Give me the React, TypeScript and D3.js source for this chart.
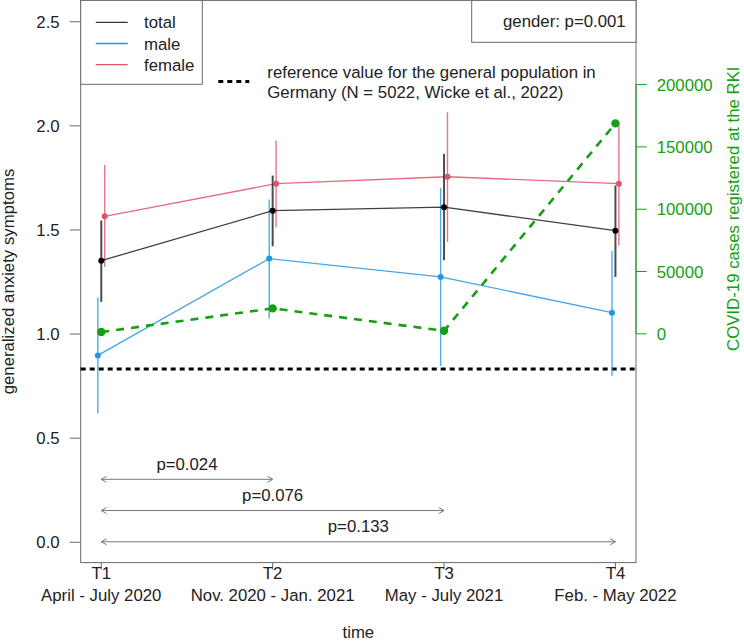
import * as d3 from 'd3'
import React, { useEffect, useRef } from 'react'

const timepoints = ['T1', 'T2', 'T3', 'T4']
const periods = ['April - July 2020', 'Nov. 2020 - Jan. 2021', 'May - July 2021', 'Feb. - May 2022']

const totalMean = [1.35, 1.59, 1.607, 1.494]
const totalLower = [1.152, 1.419, 1.352, 1.272]
const totalUpper = [1.543, 1.759, 1.863, 1.711]

const maleMean = [0.895, 1.36, 1.272, 1.1]
const maleLower = [0.617, 1.072, 0.844, 0.797]
const maleUpper = [1.173, 1.644, 1.7, 1.396]

const femaleMean = [1.563, 1.72, 1.753, 1.72]
const femaleLower = [1.32, 1.511, 1.44, 1.424]
const femaleUpper = [1.81, 1.927, 2.063, 2.007]

const covidCases = [1000, 20000, 2000, 168500]

const referenceValue = 0.83

const compareTo = [1, 2, 3]
const compareY = [0.3, 0.15, 0]
const compareP = ['p=0.024', 'p=0.076', 'p=0.133']

const leftTicks = [0, 0.5, 1, 1.5, 2, 2.5]
const rightTicks = [0, 50000, 100000, 150000, 200000]

const FONT = '"Liberation Sans", Arial, Helvetica, sans-serif'
const FS = 16.8
const GREEN = '#13a013'
const BLUE = '#2297E6'
const RED = '#DF536B'
const FRAME = '#6a6a6a'

export default function App() {
  const svgRef = useRef<SVGSVGElement>(null)

  useEffect(() => {
    if (!svgRef.current) return
    const width = 744
    const height = 642
    const svg = d3.select(svgRef.current)
    svg.selectAll('*').remove()
    svg.attr('width', width).attr('height', height)
      .style('font-family', FONT)

    const left = 80.7, right = 636, top = 0.4, bottom = 562.6

    const x = d3.scaleLinear().domain([0.88, 4.12]).range([left, right])
    const y = d3.scaleLinear().domain([-0.1, 2.6]).range([bottom, top])
    const y2 = d3.scaleLinear().domain([0, 200000]).range([333.3, 84.1])

    const idx = timepoints.map((_, i) => i)
    const xi = (i: number) => x(i + 1)

    // left axis
    const la = svg.append('g')
      .attr('transform', `translate(${left},0)`)
      .call(d3.axisLeft(y).tickValues(leftTicks).tickFormat(d3.format('.1f')).tickSize(11).tickPadding(10))
    la.select('.domain').remove()
    la.selectAll('line').attr('stroke', FRAME)
    la.selectAll('text').attr('font-size', FS).attr('fill', '#222').attr('font-family', FONT).attr('dy', '0.36em')

    // right axis (cases)
    const ra = svg.append('g')
      .attr('transform', `translate(${right},0)`)
      .call(d3.axisRight(y2).tickValues(rightTicks).tickFormat(d3.format('d')).tickSize(10.7).tickPadding(10))
    ra.select('.domain').remove()
    ra.selectAll('line').attr('stroke', GREEN)
    ra.selectAll('text').attr('font-size', FS).attr('fill', GREEN).attr('font-family', FONT).attr('dy', '0.36em')

    // plot frame
    svg.append('rect')
      .attr('x', left).attr('y', top)
      .attr('width', right - left).attr('height', bottom - top)
      .attr('fill', 'none').attr('stroke', FRAME).attr('stroke-width', 1)

    svg.append('line')
      .attr('x1', right).attr('x2', right)
      .attr('y1', y2(0)).attr('y2', y2(200000))
      .attr('stroke', GREEN).attr('stroke-width', 1)

    // bottom ticks + labels
    const bt = svg.append('g')
    bt.selectAll('line').data(idx).enter().append('line')
      .attr('x1', d => xi(d)).attr('x2', d => xi(d))
      .attr('y1', bottom).attr('y2', bottom + 7)
      .attr('stroke', FRAME)
    bt.selectAll('text.tp').data(idx).enter().append('text')
      .attr('class', 'tp')
      .attr('x', d => xi(d)).attr('y', 579.3)
      .attr('text-anchor', 'middle').attr('font-size', FS).attr('fill', '#222')
      .text(d => timepoints[d])
    bt.selectAll('text.pr').data(idx).enter().append('text')
      .attr('class', 'pr')
      .attr('x', d => xi(d)).attr('y', 601)
      .attr('text-anchor', 'middle').attr('font-size', FS).attr('fill', '#222')
      .text(d => periods[d])

    // axis titles
    svg.append('text')
      .attr('x', (left + right) / 2).attr('y', 637.5)
      .attr('text-anchor', 'middle').attr('font-size', FS).attr('fill', '#222')
      .text('time')
    svg.append('text')
      .attr('transform', `translate(13.5,${(top + bottom) / 2}) rotate(-90)`)
      .attr('text-anchor', 'middle').attr('font-size', FS).attr('fill', '#222')
      .text('generalized anxiety symptoms')
    svg.append('text')
      .attr('transform', `translate(738.5,${y2(100000)}) rotate(-90)`)
      .attr('text-anchor', 'middle').attr('font-size', FS).attr('fill', GREEN)
      .text('COVID-19 cases registered at the RKI')

    // reference line
    svg.append('line')
      .attr('x1', left).attr('x2', right)
      .attr('y1', y(referenceValue)).attr('y2', y(referenceValue))
      .attr('stroke', '#000').attr('stroke-width', 3).attr('stroke-dasharray', '5,4')

    // p-value arrows
    const arrowColor = '#777'
    const head = 6
    const ang = Math.PI / 6
    compareTo.forEach((t, k) => {
      const x1 = xi(0), x2 = xi(t), yy = y(compareY[k])
      const hx = head * Math.cos(ang), hy = head * Math.sin(ang)
      const p = d3.path()
      p.moveTo(x1, yy); p.lineTo(x2, yy)
      p.moveTo(x1 + hx, yy - hy); p.lineTo(x1, yy); p.lineTo(x1 + hx, yy + hy)
      p.moveTo(x2 - hx, yy - hy); p.lineTo(x2, yy); p.lineTo(x2 - hx, yy + hy)
      svg.append('path').attr('d', p.toString())
        .attr('fill', 'none').attr('stroke', arrowColor).attr('stroke-width', 1)
      svg.append('text')
        .attr('x', (x1 + x2) / 2).attr('y', yy - 9.5)
        .attr('text-anchor', 'middle').attr('font-size', FS).attr('fill', '#222')
        .text(compareP[k])
    })

    // series
    const series = [
      { mean: maleMean, lo: maleLower, hi: maleUpper, color: BLUE, off: -0.02, barW: 1.4, opacity: 0.8 },
      { mean: femaleMean, lo: femaleLower, hi: femaleUpper, color: RED, off: 0.02, barW: 1.4, opacity: 0.8 },
      { mean: totalMean, lo: totalLower, hi: totalUpper, color: '#000', off: 0, barW: 2, opacity: 0.7 },
    ]

    series.forEach(s => {
      const line = d3.line<number>()
        .x(i => x(i + 1 + s.off))
        .y(i => y(s.mean[i]))
      svg.append('path').datum(idx)
        .attr('d', line)
        .attr('fill', 'none').attr('stroke', s.color)
        .attr('stroke-opacity', s.opacity + 0.05).attr('stroke-width', 1.3)
      svg.append('g').selectAll('line').data(idx).enter().append('line')
        .attr('x1', i => x(i + 1 + s.off)).attr('x2', i => x(i + 1 + s.off))
        .attr('y1', i => y(s.lo[i])).attr('y2', i => y(s.hi[i]))
        .attr('stroke', s.color).attr('stroke-opacity', s.opacity)
        .attr('stroke-width', s.barW)
    })

    // covid cases (dashed green)
    const caseLine = d3.line<number>()
      .x(i => xi(i))
      .y(i => y2(covidCases[i]))
    svg.append('path').datum(idx)
      .attr('d', caseLine)
      .attr('fill', 'none').attr('stroke', GREEN)
      .attr('stroke-width', 2.6).attr('stroke-dasharray', '8,7')
    svg.append('g').selectAll('circle').data(idx).enter().append('circle')
      .attr('cx', i => xi(i)).attr('cy', i => y2(covidCases[i]))
      .attr('r', 4.2).attr('fill', GREEN)

    series.forEach(s => {
      svg.append('g').selectAll('circle').data(idx).enter().append('circle')
        .attr('cx', i => x(i + 1 + s.off)).attr('cy', i => y(s.mean[i]))
        .attr('r', 3).attr('fill', s.color)
    })

    // legend box
    const lg = svg.append('g')
    lg.append('rect')
      .attr('x', left).attr('y', top)
      .attr('width', 202.3 - left).attr('height', 84.3 - top)
      .attr('fill', '#fff').attr('stroke', FRAME)
    const legendNames = ['total', 'male', 'female']
    const legendColors = ['#333', BLUE, RED]
    legendNames.forEach((n, i) => {
      const by = 28.3 + i * 21.2
      lg.append('line')
        .attr('x1', 95.7).attr('x2', 127.7)
        .attr('y1', by - 6).attr('y2', by - 6)
        .attr('stroke', legendColors[i]).attr('stroke-width', 1.3)
      lg.append('text')
        .attr('x', 144).attr('y', by)
        .attr('font-size', FS).attr('fill', '#222')
        .text(n)
    })

    // reference legend
    svg.append('line')
      .attr('x1', 218.3).attr('x2', 249.3).attr('y1', 81.5).attr('y2', 81.5)
      .attr('stroke', '#000').attr('stroke-width', 3).attr('stroke-dasharray', '5,4')
    svg.append('text')
      .attr('x', 267.3).attr('y', 77.5)
      .attr('font-size', FS).attr('fill', '#222')
      .text('reference value for the general population in')
    svg.append('text')
      .attr('x', 267.3).attr('y', 98)
      .attr('font-size', FS).attr('fill', '#222')
      .text('Germany (N = 5022, Wicke et al., 2022)')

    // gender box
    svg.append('rect')
      .attr('x', 471.7).attr('y', top)
      .attr('width', right - 471.7).attr('height', 42.3 - top)
      .attr('fill', '#fff').attr('stroke', FRAME)
    svg.append('text')
      .attr('x', 625.7).attr('y', 27)
      .attr('text-anchor', 'end').attr('font-size', FS).attr('fill', '#222')
      .text('gender: p=0.001')
  }, [])

  return (
    <svg ref={svgRef} role="img" aria-label="Generalized anxiety symptoms over time"
      style={{ position: 'absolute', left: 0, top: 0, display: 'block' }}>
      <title>Generalized anxiety symptoms over time</title>
    </svg>
  )
}
